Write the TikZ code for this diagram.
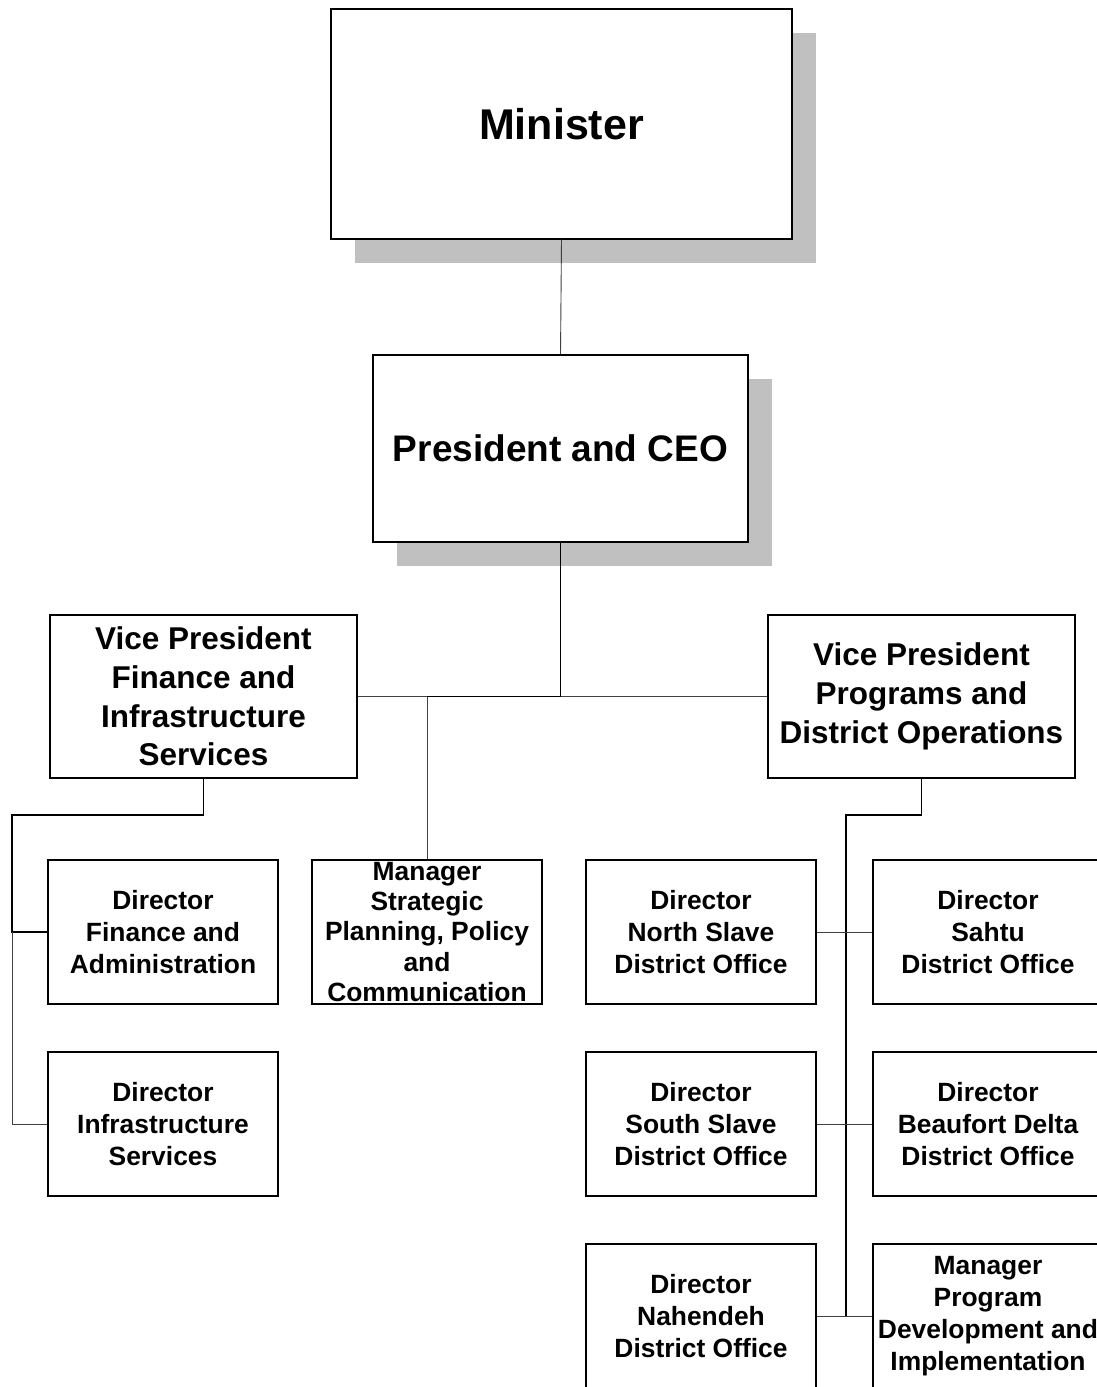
\documentclass[tikz,border=0pt]{standalone}
\usepackage{fontspec}
\setmainfont{Liberation Sans}
\usetikzlibrary{shadows}
\definecolor{shadowgray}{HTML}{C0C0C0}
\definecolor{linegray}{HTML}{404040}
\tikzset{
  box/.style={draw=black, line width=1.4pt, fill=white, inner sep=0pt, align=center, font=\bfseries},
  small/.style={box, minimum width=230pt, minimum height=144pt, font=\fontsize{26.4}{32}\selectfont\bfseries},
  vpbox/.style={box, minimum width=307pt, minimum height=163pt, font=\fontsize{31.5}{38.8}\selectfont\bfseries},
  shadowed/.style={general shadow={fill=shadowgray, draw=none, shadow xshift=24pt, shadow yshift=-24pt}},
  thinline/.style={draw=linegray, line width=0.9pt},
  thickline/.style={draw=black, line width=1.7pt},
}
\begin{document}
\begin{tikzpicture}[x=1pt, y=-1pt]
\useasboundingbox (0,0) rectangle (1097,1387);
\clip (0,0) rectangle (1097,1387);
\fill[white] (0,0) rectangle (1097,1387);

% top
\node[box, shadowed, minimum width=461pt, minimum height=230pt, font=\fontsize{43}{50}\selectfont\bfseries] (min) at (561.5,124) {Minister};
\node[box, shadowed, minimum width=375pt, minimum height=187pt, font=\fontsize{37}{44}\selectfont\bfseries] (pres) at (560.5,448.5) {President and CEO};

% vice presidents
\node[vpbox] (vpf) at (203.5,696.5) {Vice President\\Finance and\\Infrastructure\\Services};
\node[vpbox] (vpp) at (921.5,696.5) {Vice President\\Programs and\\District Operations};

% small boxes
\node[small] (dfa) at (163,932) {Director\\Finance and\\Administration};
\node[small] (dis) at (163,1124) {Director\\Infrastructure\\Services};
\node[small, font=\fontsize{26.4}{30.3}\selectfont\bfseries] (msp) at (427,932) {Manager\\Strategic\\Planning, Policy\\and\\Communication};
\node[small] (dns) at (701,932) {Director\\North Slave\\District Office};
\node[small] (dsa) at (988,932) {Director\\Sahtu\\District Office};
\node[small] (dss) at (701,1124) {Director\\South Slave\\District Office};
\node[small] (dbd) at (988,1124) {Director\\Beaufort Delta\\District Office};
\node[small] (dna) at (701,1316) {Director\\Nahendeh\\District Office};
\node[small] (mpd) at (988,1316) {Manager\\Program\\Development and\\Implementation};

% connectors
\draw[thinline] (min.south) -- (pres.north);
\coordinate (j1) at (pres.south |- vpf.east);
\coordinate (j2) at (msp.north |- vpf.east);
\draw[thinline] (vpf.east) -- (vpp.west);
\draw[thickline] (pres.south) -- (j1) -- (j2);
\draw[thinline] (j2) -- (msp.north);

\coordinate (lspine) at (12,815);
\draw[thickline] (vpf.south) |- (lspine) -- (lspine |- dfa.west) -- (dfa.west);
\draw[thinline] (lspine |- dfa.west) -- (lspine |- dis.west) -- (dis.west);

\coordinate (rspine) at (846,815);
\draw[thickline] (vpp.south) |- (rspine) -- (rspine |- mpd.west);
\draw[thinline] (dns.east) -- (dsa.west);
\draw[thinline] (dss.east) -- (dbd.west);
\draw[thinline] (dna.east) -- (mpd.west);
\end{tikzpicture}
\end{document}
